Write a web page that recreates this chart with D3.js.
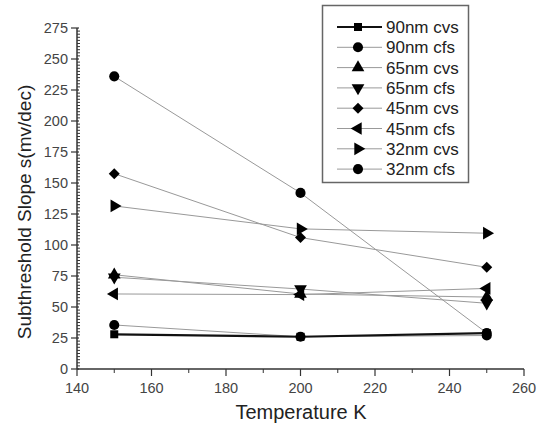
<!DOCTYPE html>
<html>
<head>
<meta charset="utf-8">
<script src="https://cdn.jsdelivr.net/npm/d3@7"></script>
<style>
  body { margin: 0; background: #fff; }
  svg { display: block; font-family: "Liberation Sans", Arial, sans-serif; }
</style>
</head>
<body>
<svg id="chart" width="546" height="425"></svg>
<script>
// temperatures (K)
var temps = [150, 200, 250];

// series labels and values
var seriesNames = ['90nm cvs', '90nm cfs', '65nm cvs', '65nm cfs', '45nm cvs', '45nm cfs', '32nm cvs', '32nm cfs'];
var nm90cvs = [28, 26, 29];
var nm90cfs = [35.5, 26, 27];
var nm65cvs = [76, 60.5, 58];
var nm65cfs = [74, 64.5, 53];
var nm45cvs = [157.5, 106, 82];
var nm45cfs = [60.5, 60, 65];
var nm32cvs = [131.5, 113, 109.5];
var nm32cfs = [236, 142, 29];

var xTicks = [140, 160, 180, 200, 220, 240, 260];
var yTicks = [0, 25, 50, 75, 100, 125, 150, 175, 200, 225, 250, 275];

var seriesValues = [nm90cvs, nm90cfs, nm65cvs, nm65cfs, nm45cvs, nm45cfs, nm32cvs, nm32cfs];
// marker shape + rotation for each series
var markers = [
  { type: d3.symbolSquare, rot: 0, size: 64 },
  { type: d3.symbolCircle, rot: 0, size: 80 },
  { type: d3.symbolTriangle, rot: 0, size: 70 },
  { type: d3.symbolTriangle, rot: 180, size: 70 },
  { type: d3.symbolSquare, rot: 45, size: 60 },
  { type: d3.symbolTriangle, rot: -90, size: 70 },
  { type: d3.symbolTriangle, rot: 90, size: 70 },
  { type: d3.symbolCircle, rot: 0, size: 80 }
];

var svg = d3.select('#chart');
var x = d3.scaleLinear().domain([140, 260]).range([77, 524]);
var y = d3.scaleLinear().domain([0, 275]).range([369, 28]);

// Axes
var axisCol = '#333';
var g = svg.append('g');

// y minor ticks (inside)
g.selectAll('line.yminor')
  .data(d3.range(0, 275.1, 2.5).filter(function (d) { return d % 25 !== 0; }))
  .enter().append('line')
  .attr('x1', x(140)).attr('x2', x(140) + 3)
  .attr('y1', function (d) { return y(d); }).attr('y2', function (d) { return y(d); })
  .attr('stroke', axisCol).attr('stroke-width', 1);
g.selectAll('line.ymajor')
  .data(yTicks)
  .enter().append('line')
  .attr('x1', x(140) - 6).attr('x2', x(140) + 2)
  .attr('y1', function (d) { return y(d); }).attr('y2', function (d) { return y(d); })
  .attr('stroke', axisCol).attr('stroke-width', 1.2);
g.selectAll('text.ylab')
  .data(yTicks)
  .enter().append('text')
  .attr('x', x(140) - 9).attr('y', function (d) { return y(d) + 5; })
  .attr('text-anchor', 'end')
  .attr('font-size', 14.5).attr('fill', '#444')
  .text(function (d) { return d; });

// x ticks (down)
g.selectAll('line.xminor')
  .data(d3.range(150, 260, 20))
  .enter().append('line')
  .attr('x1', function (d) { return x(d); }).attr('x2', function (d) { return x(d); })
  .attr('y1', y(0)).attr('y2', y(0) + 4)
  .attr('stroke', axisCol).attr('stroke-width', 1);
g.selectAll('line.xmajor')
  .data(xTicks)
  .enter().append('line')
  .attr('x1', function (d) { return x(d); }).attr('x2', function (d) { return x(d); })
  .attr('y1', y(0)).attr('y2', y(0) + 7)
  .attr('stroke', axisCol).attr('stroke-width', 1.2);
g.selectAll('text.xlab')
  .data(xTicks)
  .enter().append('text')
  .attr('x', function (d) { return x(d); }).attr('y', y(0) + 24)
  .attr('text-anchor', 'middle')
  .attr('font-size', 14.5).attr('fill', '#444')
  .text(function (d) { return d; });

g.append('line')
  .attr('x1', x(140)).attr('x2', x(140)).attr('y1', y(0)).attr('y2', y(275))
  .attr('stroke', axisCol).attr('stroke-width', 1.5);
g.append('line')
  .attr('x1', x(140)).attr('x2', x(260)).attr('y1', y(0)).attr('y2', y(0))
  .attr('stroke', axisCol).attr('stroke-width', 1.5);

// Axis titles
svg.append('text')
  .attr('transform', 'translate(31,212) rotate(-90)')
  .attr('text-anchor', 'middle')
  .attr('font-size', 19).attr('fill', '#222')
  .text('Subthreshold Slope s(mv/dec)');
svg.append('text')
  .attr('x', 301).attr('y', 419)
  .attr('text-anchor', 'middle')
  .attr('font-size', 20).attr('fill', '#222')
  .text('Temperature K');

// Series
var line = d3.line()
  .x(function (d, i) { return x(temps[i]); })
  .y(function (d) { return y(d); });

function lineColor(i) { return i === 0 ? '#111' : '#999'; }
function lineWidth(i) { return i === 0 ? 2.2 : 1; }

var plot = svg.append('g');
// draw thin lines first, thick 90nm cvs on top
var order = [7, 6, 5, 4, 3, 2, 1, 0];
order.forEach(function (i) {
  plot.append('path')
    .datum(seriesValues[i])
    .attr('d', line)
    .attr('fill', 'none')
    .attr('stroke', lineColor(i))
    .attr('stroke-width', lineWidth(i));
});
order.forEach(function (i) {
  var m = markers[i];
  plot.selectAll(null)
    .data(seriesValues[i])
    .enter().append('path')
    .attr('d', d3.symbol().type(m.type).size(m.size))
    .attr('transform', function (d, j) {
      return 'translate(' + x(temps[j]) + ',' + y(d) + ') rotate(' + m.rot + ')';
    })
    .attr('fill', '#000');
});

// Legend
var lg = svg.append('g');
lg.append('rect')
  .attr('x', 322.5).attr('y', 5.5).attr('width', 146).attr('height', 177)
  .attr('fill', '#fff').attr('stroke', '#666').attr('stroke-width', 1.5);
seriesNames.forEach(function (name, i) {
  var ly = 27 + i * 20.3;
  lg.append('line')
    .attr('x1', 337).attr('x2', 382).attr('y1', ly).attr('y2', ly)
    .attr('stroke', lineColor(i)).attr('stroke-width', lineWidth(i));
  var m = markers[i];
  lg.append('path')
    .attr('d', d3.symbol().type(m.type).size(m.size))
    .attr('transform', 'translate(358,' + ly + ') rotate(' + m.rot + ')')
    .attr('fill', '#000');
  lg.append('text')
    .attr('x', 386).attr('y', ly + 6)
    .attr('font-size', 17).attr('fill', '#222')
    .text(name);
});
</script>
</body>
</html>
